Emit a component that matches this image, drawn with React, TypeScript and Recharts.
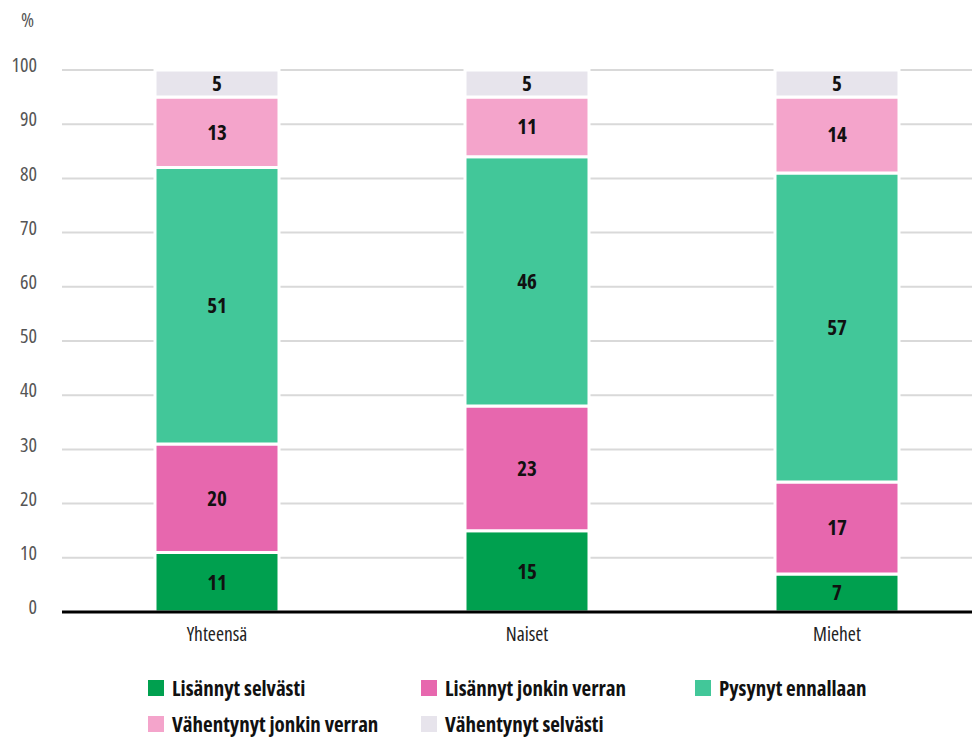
import { Bar, BarChart, CartesianGrid, LabelList, XAxis, YAxis } from "recharts"

const categories = ["Yhteensä", "Naiset", "Miehet"]
const lisannytSelvasti = [11, 15, 7]
const lisannytJonkin = [20, 23, 17]
const pysynyt = [51, 46, 57]
const vahentynytJonkin = [13, 11, 14]
const vahentynytSelvasti = [5, 5, 5]
const yTicks = [0, 10, 20, 30, 40, 50, 60, 70, 80, 90, 100]

const series = [
  { key: "ls", name: "Lisännyt selvästi", color: "#00a04f", values: lisannytSelvasti },
  { key: "lj", name: "Lisännyt jonkin verran", color: "#e767ae", values: lisannytJonkin },
  { key: "pe", name: "Pysynyt ennallaan", color: "#42c799", values: pysynyt },
  { key: "vj", name: "Vähentynyt jonkin verran", color: "#f4a4cb", values: vahentynytJonkin },
  { key: "vs", name: "Vähentynyt selvästi", color: "#e7e4ec", values: vahentynytSelvasti },
]

const data = categories.map((name, i) => {
  const row: Record<string, string | number> = { name }
  series.forEach((s) => (row[s.key] = s.values[i]))
  return row
})

const font = "'Open Sans', sans-serif"
const narrow = { fontStretch: "condensed" }

// legend rows, kept a little higher so the second row is not cut by the window
const legendPos = [
  { left: 148, top: 680 },
  { left: 421, top: 680 },
  { left: 695, top: 680 },
  { left: 148, top: 716 },
  { left: 421, top: 716 },
]

function YTick(props: any) {
  const { x, y, payload } = props
  return (
    <text x={x} y={y - 5} dy="0.355em" textAnchor="end" fill="#555" fontSize={20} fontFamily={font} style={narrow}>
      {payload.value}
    </text>
  )
}

function XTick(props: any) {
  const { x, y, payload } = props
  return (
    <text x={x} y={y} dy="0.71em" textAnchor="middle" fill="#222" fontSize={19.5} fontFamily={font} style={narrow}>
      {payload.value}
    </text>
  )
}

export default function App() {
  return (
    <div style={{ position: "relative", margin: -8, width: 980, height: 745, overflow: "hidden", background: "#fff", fontFamily: font, fontStretch: "condensed" }}>
      <div style={{ position: "absolute", left: 21, top: 10, fontSize: 20, lineHeight: 1, color: "#555" }}>%</div>
      <BarChart width={992} height={660} data={data} margin={{ top: 70, right: 0, bottom: 0, left: 0 }} barSize={124}>
        <CartesianGrid vertical={false} stroke="#d9d9d9" strokeWidth={2} />
        <XAxis
          dataKey="name"
          height={48}
          tickLine={false}
          tickSize={0}
          tickMargin={15}
          axisLine={{ stroke: "#000", strokeWidth: 3 }}
          tick={<XTick />}
        />
        <YAxis width={62} domain={[0, 100]} ticks={yTicks} axisLine={false} tickLine={false} tickSize={0} tickMargin={25} tick={<YTick />} />
        {series.map((s) => (
          <Bar key={s.key} dataKey={s.key} name={s.name} stackId="a" fill={s.color} stroke="#fff" strokeWidth={3} isAnimationActive={false}>
            <LabelList dataKey={s.key} position="center" fill="#111" fontSize={21} fontWeight="bold" fontFamily={font} style={narrow} />
          </Bar>
        ))}
      </BarChart>
      {series.map((s, i) => (
        <div key={s.key} style={{ position: "absolute", left: legendPos[i].left, top: legendPos[i].top, display: "flex", alignItems: "center", height: 16 }}>
          <div style={{ width: 16, height: 16, background: s.color, marginRight: 8, flexShrink: 0 }} />
          <span style={{ fontSize: 21, lineHeight: 1, fontWeight: "bold", color: "#111", whiteSpace: "nowrap" }}>{s.name}</span>
        </div>
      ))}
    </div>
  )
}
